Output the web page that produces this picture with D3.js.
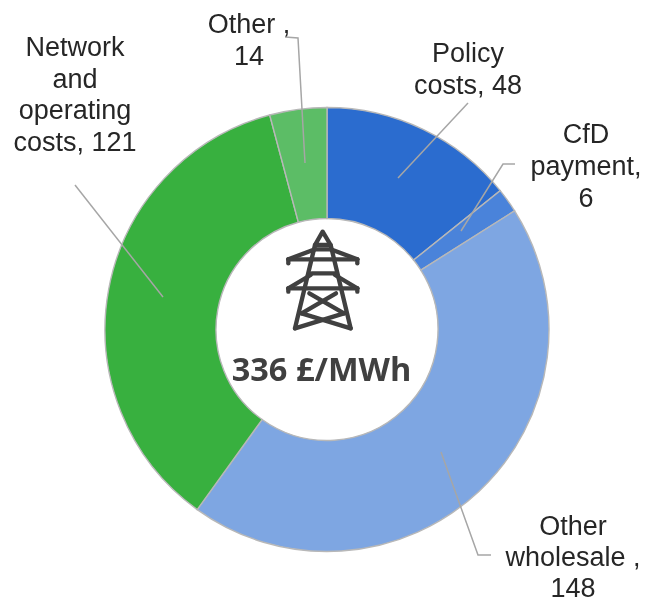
<!DOCTYPE html>
<html><head><meta charset="utf-8">
<script src="https://cdn.jsdelivr.net/npm/d3@7/dist/d3.min.js"></script>
<style>html,body{margin:0;padding:0;background:#fff}svg{display:block;filter:blur(0.4px)}</style>
</head><body><svg id="c" width="646" height="603"></svg>
<script>
const categories = ["Policy costs", "CfD payment", "Other wholesale", "Network and operating costs", "Other"];
const values = [48, 6, 148, 121, 14];
const sliceColors = ["#2b6ccf", "#4a83da", "#7ea6e2", "#38b03f", "#5cbd66"];
const totalLabel = "336 £/MWh";
const labelLines = [["Policy","costs, 48"],["CfD","payment,","6"],["Other","wholesale ,","148"],["Network","and","operating","costs, 121"],["Other ,","14"]];

const labelPos = [[468,62],[586,143],[573,535],[75,56],[249,33]];
const lineHeights = [32,32,31,31.5,32];
const leaders = [
  [[398,178],[468,103]],
  [[461,231],[503,164],[515,164]],
  [[441,452],[478,555],[491,555]],
  [[163,297],[75,185]],
  [[305,163],[298,38],[285,37]]
];
const towerPaths = [
  "M285,105L308,65L332,105Z","M285,105L225,355","M332,105L392,355",
  "M285,118H332","M205,148H412","M205,148V160","M412,148V160",
  "M205,148L285,118","M412,148L332,118",
  "M275,190H345","M205,235H412","M205,235V245","M412,235V245",
  "M205,235L272,195","M412,235L345,195",
  "M268,250L372,310","M348,250L245,310","M245,310L392,355","M372,310L225,355"
];

const cx = 327, cy = 329.5, rO = 222, rI = 111;
const svg = d3.select("#c");
const g = svg.append("g").attr("transform",`translate(${cx},${cy})`);
const pie = d3.pie().sort(null)(values);
const arc = d3.arc().innerRadius(rI).outerRadius(rO);
g.selectAll("path").data(pie).join("path")
  .attr("d",arc).attr("fill",(d,i)=>sliceColors[i])
  .attr("stroke","#b8b8b8").attr("stroke-width",1.4);

const line = d3.line();
svg.selectAll("path.leader").data(leaders).join("path").attr("class","leader")
  .attr("d",d=>line(d)).attr("fill","none").attr("stroke","#a6a6a6").attr("stroke-width",1.5);

svg.append("g").attr("transform","translate(220,210) scale(0.3333)")
  .selectAll("path").data(towerPaths).join("path").attr("d",d=>d)
  .attr("fill","none").attr("stroke","#404040").attr("stroke-width",13)
  .attr("stroke-linecap","round").attr("stroke-linejoin","round");

svg.append("text").attr("x",321.5).attr("y",381).attr("text-anchor","middle")
  .attr("font-family","'Open Sans',sans-serif").attr("font-weight",700).attr("font-size",32.5)
  .attr("fill","#404040").text(totalLabel);

labelLines.forEach((ls,i)=>{
  const t = svg.append("text").attr("text-anchor","middle")
    .attr("font-family","'Liberation Sans',Arial,sans-serif").attr("font-size",27).attr("fill","#262626");
  ls.forEach((s,j)=>t.append("tspan").attr("x",labelPos[i][0]).attr("y",labelPos[i][1]+j*lineHeights[i]).text(s));
});
</script></body></html>
